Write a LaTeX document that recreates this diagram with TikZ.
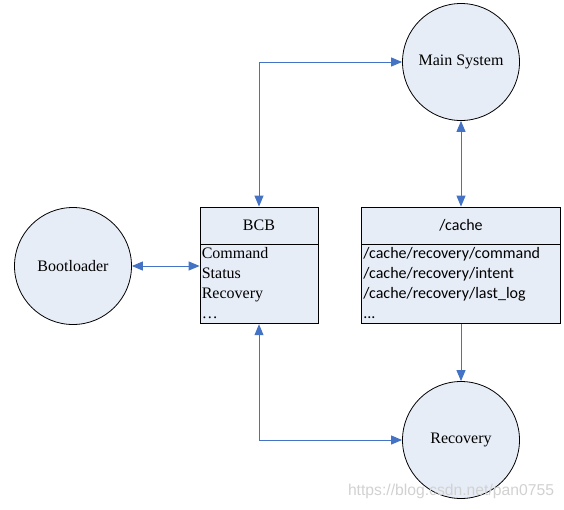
\documentclass[tikz,border=0pt]{standalone}
\usepackage{fontspec}
\setmainfont{Liberation Serif}
\newfontfamily\pathfont{Carlito}
\newfontfamily\markfont{Liberation Sans}
\usetikzlibrary{arrows.meta,positioning}
\definecolor{cfill}{HTML}{E7EDF7}
\definecolor{carrow}{HTML}{4472C4}

\begin{document}
\begin{tikzpicture}[
    x=1pt, y=-1pt,
    state/.style={circle, draw, line width=0.8pt, fill=cfill, minimum size=117pt, inner sep=0pt, font=\fontsize{16}{20}\selectfont},
    hdr/.style={draw, line width=0.8pt, fill=cfill, minimum width=#1, minimum height=37pt, inner sep=0pt, font=\fontsize{16}{20}\selectfont},
    body/.style={draw, line width=0.8pt, fill=cfill, minimum width=#1, minimum height=79pt, inner sep=0pt},
    lines/.style={anchor=north west, align=left, inner xsep=2pt, inner ysep=3pt, font=\fontsize{16}{19.8}\selectfont},
    link/.style={carrow, line width=1pt},
    tip/.style={-{Triangle[length=11pt,width=9pt]}},
    tips/.style={{Triangle[length=11pt,width=9pt]}-{Triangle[length=11pt,width=9pt]}},
]
\useasboundingbox (0,0) rectangle (564,509);

% --- States ---
\node[state] (main) at (461, 62) {Main System};
\node[state] (boot) at (73, 266) {Bootloader};
\node[state] (rec) at (461, 440) {Recovery};

% --- BCB block ---
\node[hdr=118pt] (bcb) at (259, 225.5) {BCB};
\node[body=118pt, below=0pt of bcb] (bcbbody) {};
\node[lines] (bcbtext) at (bcbbody.north west) {Command\\Status\\Recovery\\\ldots};

% --- cache block ---
\node[hdr=199pt, font=\fontsize{16}{20}\pathfont] (cache) at (461, 225.5) {/cache};
\node[body=199pt, below=0pt of cache] (cachebody) {};
\node[lines, font=\fontsize{16}{20}\pathfont] (cachetext) at (cachebody.north west)
    {/cache/recovery/command\\/cache/recovery/intent\\/cache/recovery/last\_log\\...};

% --- Links ---
\draw[link, tips] (bcb.north) |- (main.west);
\draw[link, tips] (main.south) -- (cache.north);
\draw[link, tip] (cachebody.south) -- (rec.north);
\draw[link, tips] (bcbbody.south) |- (rec.west);
\draw[link, tips] (boot.east) -- (boot.east -| bcbbody.west);

% watermark
\node[font=\fontsize{15.7}{18}\markfont, text=black!18] (mark) at (451, 491) {https://blog.csdn.net/pan0755};

\end{tikzpicture}
\end{document}
